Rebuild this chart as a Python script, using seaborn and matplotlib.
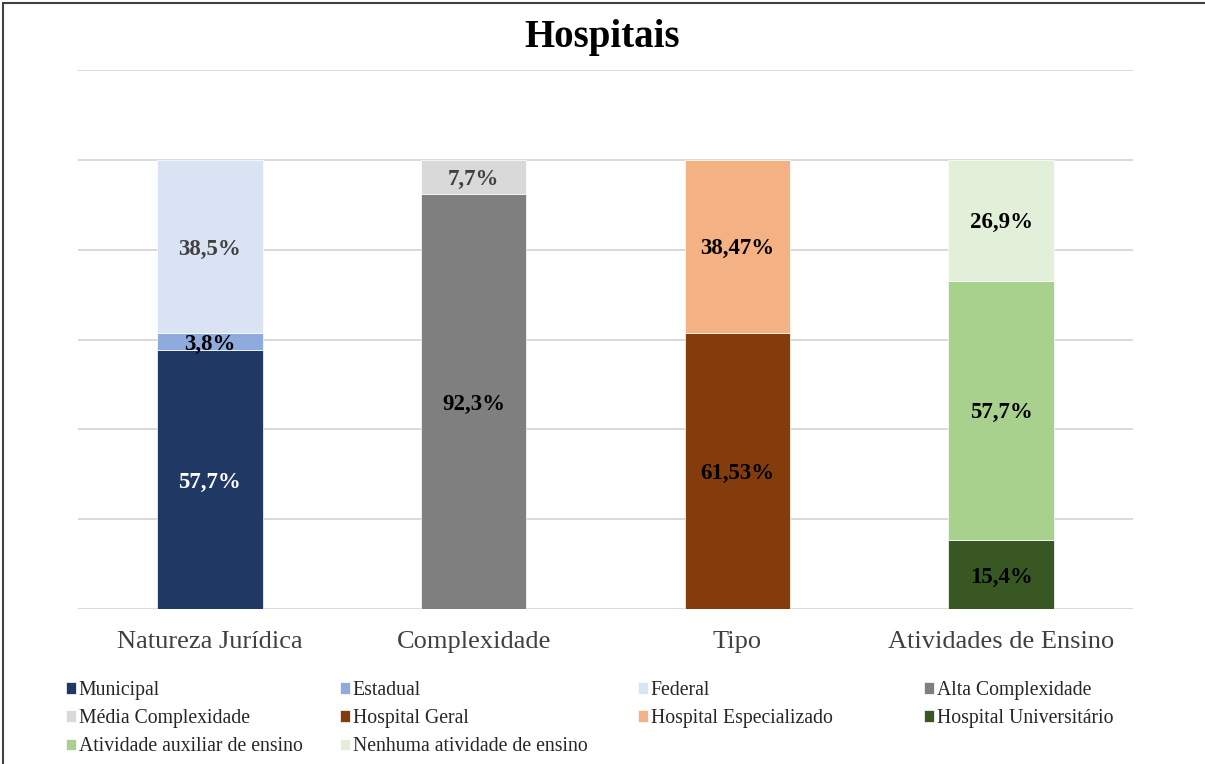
import matplotlib
matplotlib.use("Agg")
import matplotlib.pyplot as plt
from matplotlib.patches import Rectangle
import seaborn as sns
import pandas as pd

# Categories shown on the x axis
categories = ["Natureza Jurídica", "Complexidade", "Tipo", "Atividades de Ensino"]

# Each series belongs to one category and is stacked within it (bottom to top)
series_names = [
    "Municipal", "Estadual", "Federal",
    "Alta Complexidade", "Média Complexidade",
    "Hospital Geral", "Hospital Especializado",
    "Hospital Universitário", "Atividade auxiliar de ensino", "Nenhuma atividade de ensino",
]
series_category = [
    "Natureza Jurídica", "Natureza Jurídica", "Natureza Jurídica",
    "Complexidade", "Complexidade",
    "Tipo", "Tipo",
    "Atividades de Ensino", "Atividades de Ensino", "Atividades de Ensino",
]
series_values = [57.7, 3.8, 38.5, 92.3, 7.7, 61.53, 38.47, 15.4, 57.7, 26.9]

series_colors = [
    "#203864", "#8FAADC", "#DAE3F3",
    "#7F7F7F", "#D9D9D9",
    "#843C0C", "#F4B183",
    "#385723", "#A9D18E", "#E2F0D9",
]
label_colors = [
    "#FFFFFF", "#000000", "#404040",
    "#000000", "#404040",
    "#000000", "#000000",
    "#000000", "#000000", "#000000",
]

# Legend columns (entries read row by row across the four columns)
legend_columns = [
    ["Municipal", "Média Complexidade", "Atividade auxiliar de ensino"],
    ["Estadual", "Hospital Geral", "Nenhuma atividade de ensino"],
    ["Federal", "Hospital Especializado"],
    ["Alta Complexidade", "Hospital Universitário"],
]
legend_column_x = [66, 340, 638, 924]

df = pd.DataFrame({
    "categoria": series_category,
    "serie": series_names,
    "valor": series_values,
    "cor": series_colors,
    "cor_rotulo": label_colors,
})
df["base"] = df.groupby("categoria", sort=False)["valor"].cumsum() - df["valor"]

sns.set_theme(style="white")
plt.rcParams["font.family"] = ["Liberation Serif", "DejaVu Serif"]

W, H = 1205, 764
fig = plt.figure(figsize=(W / 100, H / 100), dpi=100)
ax = fig.add_axes([78 / W, 1 - 609 / H, (1133 - 78) / W, (609 - 70) / H])

for _, row in df.iterrows():
    sns.barplot(
        x=[row["categoria"]], y=[row["valor"]], order=categories,
        bottom=row["base"], color=row["cor"], saturation=1, width=0.4,
        edgecolor="white", linewidth=0.5, label=row["serie"], ax=ax,
        errorbar=None,
    )
    pos = categories.index(row["categoria"])
    txt = format(row["valor"], "g").replace(".", ",") + "%"
    ax.text(pos, row["base"] + row["valor"] / 2 - 0.6, txt, ha="center", va="center",
            fontsize=16.5, fontweight="bold", color=row["cor_rotulo"], zorder=5)

handles, labels = ax.get_legend_handles_labels()
lookup = dict(zip(labels, handles))
if ax.get_legend() is not None:
    ax.get_legend().remove()

ax.set_xlim(-0.5, len(categories) - 0.5)
ax.set_ylim(0, 120)
ax.set_yticks(range(0, 121, 20))
ax.set_yticklabels([])
ax.yaxis.grid(True, color="#D9D9D9", linewidth=1.4)
ax.set_axisbelow(True)
ax.set_xticks(range(len(categories)))
ax.set_xticklabels(categories, fontsize=19, color="#404040")
ax.tick_params(axis="both", length=0)
ax.tick_params(axis="x", pad=16)
ax.set_xlabel("")
ax.set_ylabel("")
for s in ax.spines.values():
    s.set_visible(False)

# Legend, one block per column
for names, x in zip(legend_columns, legend_column_x):
    fig.legend(
        [lookup[n] for n in names], names, loc="upper left", ncol=1,
        bbox_to_anchor=(x / W, 1 - 681 / H),
        frameon=False, fontsize=14.2, handlelength=0.5, handleheight=0.5,
        handletextpad=0.15, labelspacing=0.46, borderpad=0, borderaxespad=0,
        labelcolor="#262626",
    )

# Title
fig.text(0.5, 1 - 37 / H, "Hospitais", ha="center", va="center",
         fontsize=28, fontweight="bold", color="#000000")

# Chart frame
fig.patches.append(Rectangle((3 / W, -0.05), 1.2, 1 - 3 / H + 0.05,
                             transform=fig.transFigure, fill=False,
                             edgecolor="#404040", linewidth=1.5))

fig.savefig("out.png", dpi=100)
